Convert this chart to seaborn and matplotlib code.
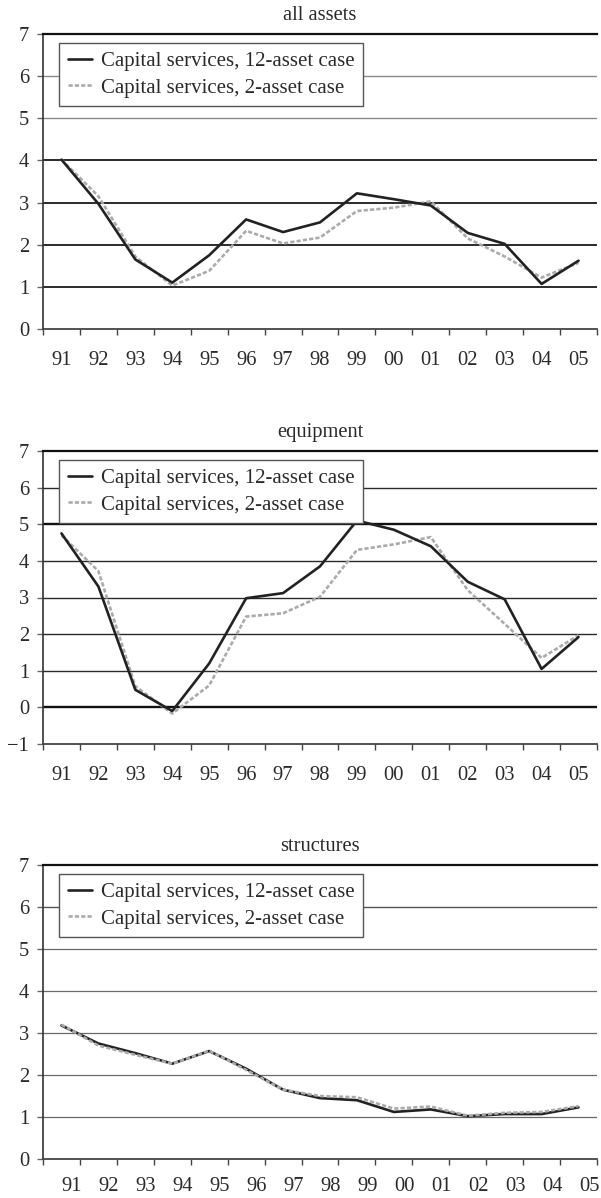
import matplotlib
matplotlib.use("Agg")
import matplotlib.pyplot as plt
import matplotlib.transforms as mtransforms
import numpy as np
import pandas as pd
import seaborn as sns

# ---------------- data ----------------
years = ["91", "92", "93", "94", "95", "96", "97", "98", "99", "00", "01", "02", "03", "04", "05"]
series_names = ["Capital services, 12-asset case", "Capital services, 2-asset case"]

all_12 = [4.02, 2.97, 1.65, 1.10, 1.75, 2.60, 2.30, 2.53, 3.22, 3.08, 2.93, 2.28, 2.02, 1.07, 1.62]
all_2 = [4.02, 3.15, 1.72, 1.03, 1.38, 2.33, 2.03, 2.17, 2.80, 2.88, 3.03, 2.15, 1.72, 1.22, 1.57]

eq_12 = [4.75, 3.30, 0.48, -0.10, 1.20, 2.98, 3.12, 3.85, 5.10, 4.85, 4.40, 3.43, 2.95, 1.05, 1.92]
eq_2 = [4.70, 3.72, 0.58, -0.17, 0.60, 2.48, 2.57, 3.02, 4.30, 4.45, 4.65, 3.20, 2.28, 1.35, 1.97]

st_12 = [3.18, 2.75, 2.52, 2.27, 2.57, 2.15, 1.65, 1.45, 1.40, 1.12, 1.18, 1.02, 1.07, 1.07, 1.23]
st_2 = [3.20, 2.70, 2.48, 2.27, 2.58, 2.12, 1.65, 1.50, 1.47, 1.20, 1.25, 1.03, 1.10, 1.12, 1.26]

panel_titles = ["all assets", "equipment", "structures"]
panel_data = [(all_12, all_2), (eq_12, eq_2), (st_12, st_2)]
panel_ylims = [(0, 7), (-1, 7), (0, 7)]

# ---------------- style ----------------
sns.set_theme(style="white")
plt.rcParams["font.family"] = ["Liberation Serif", "DejaVu Serif"]
plt.rcParams["text.color"] = "#2a2a2a"
plt.rcParams["axes.labelcolor"] = "#2a2a2a"
plt.rcParams["xtick.color"] = "#444444"
plt.rcParams["ytick.color"] = "#444444"

FS = 14.8
LFS = 15.0
W, H = 601, 1198
fig = plt.figure(figsize=(W / 100, H / 100), dpi=100)

left = 43 / W
width = 554 / W
boxes = [(34, 329), (451, 744), (865, 1159)]
xpads = [16.0, 16.0, 13.0]

grid_styles = [
    {6: ("#8a8a8a", 1.0), 5: ("#8a8a8a", 1.0), 4: ("#1a1a1a", 1.3), 3: ("#1a1a1a", 1.3),
     2: ("#1a1a1a", 1.3), 1: ("#1a1a1a", 1.3)},
    {6: ("#2a2a2a", 1.0), 5: ("#111111", 1.7), 4: ("#2a2a2a", 1.0), 3: ("#2a2a2a", 1.0),
     2: ("#2a2a2a", 1.0), 1: ("#2a2a2a", 1.0), 0: ("#111111", 1.7)},
    {6: ("#555555", 1.0), 5: ("#6a6a6a", 0.9), 4: ("#6a6a6a", 0.9), 3: ("#6a6a6a", 0.9),
     2: ("#6a6a6a", 0.9), 1: ("#6a6a6a", 0.9)},
]

x = np.arange(len(years))

for k, (title, (s12, s2), ylim, (ytop, ybot)) in enumerate(
        zip(panel_titles, panel_data, panel_ylims, boxes)):
    ax = fig.add_axes([left, 1 - ybot / H, width, (ybot - ytop) / H])
    df = pd.DataFrame({
        "x": np.concatenate([x, x]),
        "value": s12 + s2,
        "series": [series_names[0]] * len(x) + [series_names[1]] * len(x),
    })

    for yv, (c, lw) in grid_styles[k].items():
        ax.axhline(yv, color=c, lw=lw, zorder=1)

    sns.lineplot(data=df[df.series == series_names[0]], x="x", y="value", ax=ax,
                 color="#222222", linewidth=1.9, label=series_names[0], zorder=3)
    sns.lineplot(data=df[df.series == series_names[1]], x="x", y="value", ax=ax,
                 color="#ababab", linewidth=1.9, linestyle=(0, (1.6, 0.8)),
                 label=series_names[1], zorder=4 if k == 2 else 2)

    ax.set_xlim(-0.5, len(years) - 0.5)
    ax.set_ylim(*ylim)
    ax.set_xlabel("")
    ax.set_ylabel("")

    for side in ["left", "bottom", "top"]:
        ax.spines[side].set_visible(True)
    ax.spines["right"].set_visible(False)
    ax.spines["left"].set_color("#333333")
    ax.spines["left"].set_linewidth(1.2)
    ax.spines["bottom"].set_color("#444444")
    ax.spines["bottom"].set_linewidth(1.3)
    ax.spines["top"].set_color("#111111")
    ax.spines["top"].set_linewidth(1.6)

    yt = np.arange(ylim[0], ylim[1] + 1)
    ax.set_yticks(yt)
    ax.set_yticklabels(["\u2212" + str(-v) if v < 0 else str(v) for v in yt])
    ax.tick_params(axis="y", which="major", direction="out", length=4, width=1.0,
                   color="#666666", pad=6, labelsize=FS, labelcolor="#2a2a2a", left=True)

    ax.set_xticks(x)
    ax.set_xticklabels(years)
    ax.set_xticks(np.arange(-0.5, len(years)), minor=True)
    ax.tick_params(axis="x", which="major", length=0, pad=xpads[k], labelsize=FS,
                   labelcolor="#2a2a2a", bottom=True)
    ax.tick_params(axis="x", which="minor", direction="out", length=4, width=1.0,
                   color="#444444", bottom=True)
    if k == 2:
        offset = mtransforms.ScaledTranslation(10.5 / 100, 0, fig.dpi_scale_trans)
        for lab in ax.get_xticklabels():
            lab.set_transform(lab.get_transform() + offset)

    ax.set_title(title, fontsize=FS, pad=10, color="#2a2a2a")

    axh = ybot - ytop
    leg = ax.legend(loc="upper left", bbox_to_anchor=(16 / 554, 1 - 9 / axh),
                    borderaxespad=0, frameon=True, fancybox=False, fontsize=LFS,
                    handlelength=1.15, handletextpad=0.45, labelspacing=0.32,
                    borderpad=0.42)
    frame = leg.get_frame()
    frame.set_edgecolor("#555555")
    frame.set_linewidth(1.0)
    frame.set_facecolor("white")
    frame.set_alpha(1)
    leg.set_zorder(5)

fig.savefig("out.png", dpi=100)
